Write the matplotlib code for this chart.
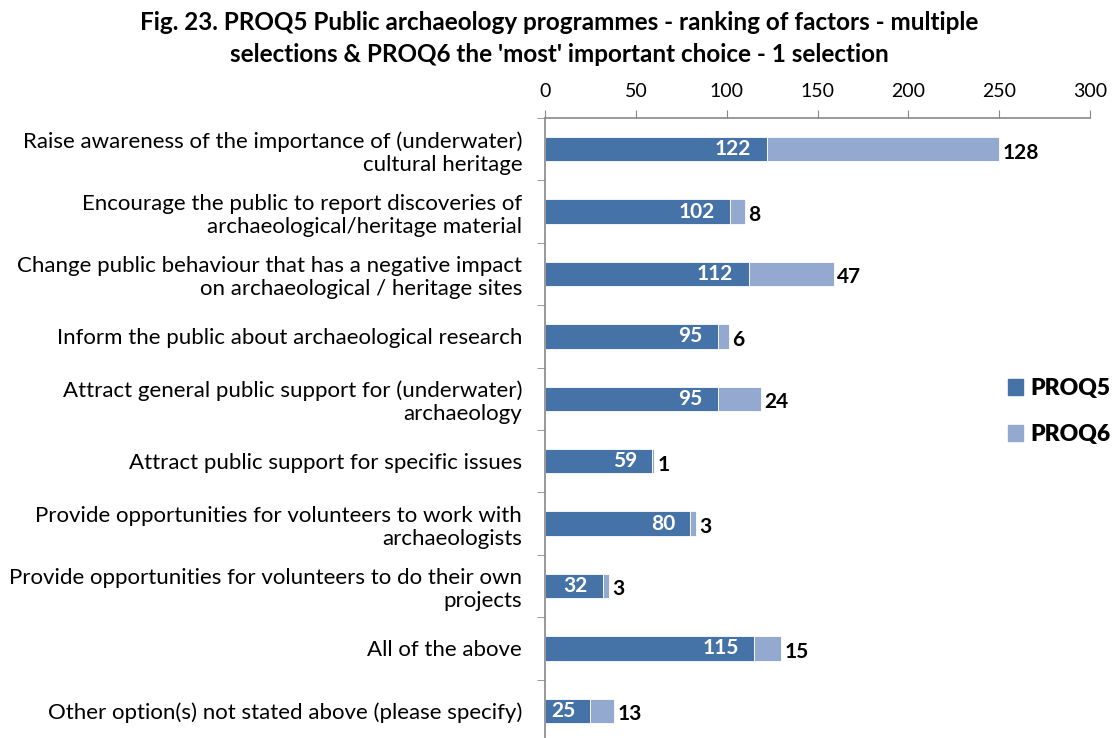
import matplotlib
matplotlib.use("Agg")
import matplotlib.pyplot as plt
from matplotlib.patches import Patch

plt.rcParams['font.family'] = ['Lato', 'DejaVu Sans']

categories = [
    "Raise awareness of the importance of (underwater)\ncultural heritage",
    "Encourage the public to report discoveries of\narchaeological/heritage material",
    "Change public behaviour that has a negative impact\non archaeological / heritage sites",
    "Inform the public about archaeological research",
    "Attract general public support for (underwater)\narchaeology",
    "Attract public support for specific issues",
    "Provide opportunities for volunteers to work with\narchaeologists",
    "Provide opportunities for volunteers to do their own\nprojects",
    "All of the above",
    "Other option(s) not stated above (please specify)",
]
proq5 = [122, 102, 112, 95, 95, 59, 80, 32, 115, 25]
proq6 = [128, 8, 47, 6, 24, 1, 3, 3, 15, 13]
xticks = [0, 50, 100, 150, 200, 250, 300]

c5 = '#4572A7'
c6 = '#93A9CF'

fig = plt.figure(figsize=(11.16, 7.38), dpi=100)
ax = fig.add_axes([0.4884, -0.0054, 0.4884, 0.8455])

pos = list(range(len(categories)))
ax.barh(pos, proq5, height=0.39, color=c5, edgecolor='white', linewidth=0.6)
ax.barh(pos, proq6, left=proq5, height=0.39, color=c6, edgecolor='white', linewidth=0.6)

# PROQ5 value inside the dark segment, PROQ6 value just past the bar end
for i, (a, b) in enumerate(zip(proq5, proq6)):
    ax.annotate(str(a), (a, i), xytext=(-11, 0), textcoords='offset points',
                ha='right', va='center', color='white', fontsize=15, fontweight='bold')
    ax.annotate(str(b), (a + b, i), xytext=(2.5, -2.5), textcoords='offset points',
                ha='left', va='center', color='black', fontsize=15, fontweight='bold')

ax.set_xlim(0, 300)
ax.set_ylim(len(categories) - 0.5, -0.5)
ax.xaxis.tick_top()
ax.set_xticks(xticks)
ax.tick_params(axis='x', direction='out', length=6, color='#888888', labelsize=14, pad=7)

ax.set_yticks(pos)
ax.set_yticklabels(categories, fontsize=16)
ax.tick_params(axis='y', which='major', length=0, pad=16.5)
ax.set_yticks([p - 0.5 for p in pos] + [len(pos) - 0.5], minor=True)
ax.tick_params(axis='y', which='minor', direction='out', length=6, color='#888888')

for s in ['right', 'bottom']:
    ax.spines[s].set_visible(False)
for s in ['top', 'left']:
    ax.spines[s].set_color('#888888')
    ax.spines[s].set_linewidth(1.2)

handles = [Patch(color=c5, label='PROQ5'), Patch(color=c6, label='PROQ6')]
fig.legend(handles=handles, loc='center left', bbox_to_anchor=(0.885, 0.4424),
           frameon=False, prop={'weight': 'heavy', 'size': 16.5},
           handlelength=0.65, handleheight=0.65, labelspacing=1.1, handletextpad=0.3)

fig.text(0.501, 0.948,
         "Fig. 23. PROQ5 Public archaeology programmes - ranking of factors - multiple\n"
         "selections & PROQ6 the 'most' important choice - 1 selection",
         ha='center', va='center', fontsize=17.5, fontweight='bold', linespacing=1.45)

fig.savefig('out.png', dpi=100)
